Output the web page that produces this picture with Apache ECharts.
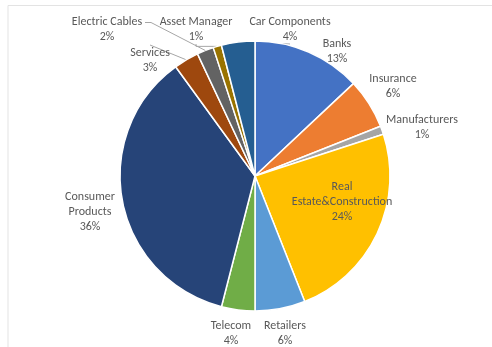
<!DOCTYPE html>
<html><head><meta charset="utf-8">
<script src="https://cdn.jsdelivr.net/npm/echarts@6/dist/echarts.min.js"></script>
<style>html,body{margin:0;padding:0;background:#fff}#c{width:492px;height:347px}</style>
</head><body><div id="c"></div>
<script>
const categories = ['Banks','Insurance','Manufacturers','Real Estate&Construction','Retailers','Telecom','Consumer Products','Services','Electric Cables','Asset Manager','Car Components'];
const labelText = ['Banks','Insurance','Manufacturers','Real\nEstate&Construction','Retailers','Telecom','Consumer\nProducts','Services','Electric Cables','Asset Manager','Car Components'];
const values = [13,6,1,24,6,4,36,3,2,1,4];
const colors = ['#4472C4','#ED7D31','#A5A5A5','#FFC000','#5B9BD5','#70AD47','#264478','#9E480E','#636363','#997300','#255E91'];
const withLine = [false,false,false,false,false,false,false,true,false,true,true];
// label centres (layout only)
const labelPos = [[337,51],[393,86],[422,127],[342,202],[285,333],[231,333],[90,212],[150,60],[107,29],[196,29],[290,29]];

const CX = 255, CY = 176, R = 135;
// leader line for Electric Cables: from text end to slice edge at its mid-angle
const total = values.reduce((a,b)=>a+b,0);
const ecIdx = 8;
const before = values.slice(0,ecIdx).reduce((a,b)=>a+b,0);
const midAng = (90 - (before + values[ecIdx]/2)/total*360) * Math.PI/180;
const edge = [CX + R*Math.cos(midAng), CY - R*Math.sin(midAng)];

const chart = echarts.init(document.getElementById('c'));
chart.setOption({
  animation:false,
  graphic:[
    {type:'polyline',shape:{points:[[8,347],[8,5.5],[492,5.5]]},style:{stroke:'#e3e3e3',lineWidth:1,fill:null},silent:true},
    {type:'polyline',z:10,shape:{points:[[145,22.5],[151,22.5],edge]},style:{stroke:'#a6a6a6',lineWidth:1,fill:null},silent:true}
  ],
  series:[{
    type:'pie',
    center:[CX,CY],
    radius:R,
    startAngle:90,
    clockwise:true,
    itemStyle:{borderColor:'#fff',borderWidth:1.5},
    label:{show:true,color:'#595959',fontFamily:'Carlito, "Liberation Sans", sans-serif',fontSize:12,lineHeight:15,align:'center',overflow:'none',width:200,
      formatter:p=>labelText[p.dataIndex]+'\n'+p.value+'%'},
    labelLine:{show:false,lineStyle:{color:'#a6a6a6',width:1},length:10,length2:5},
    labelLayout:p=>({x:labelPos[p.dataIndex][0],y:labelPos[p.dataIndex][1],align:'center',verticalAlign:'middle'}),
    data:categories.map((c,i)=>({name:c,value:values[i],itemStyle:{color:colors[i]},labelLine:{show:withLine[i]}}))
  }]
});
</script></body></html>
